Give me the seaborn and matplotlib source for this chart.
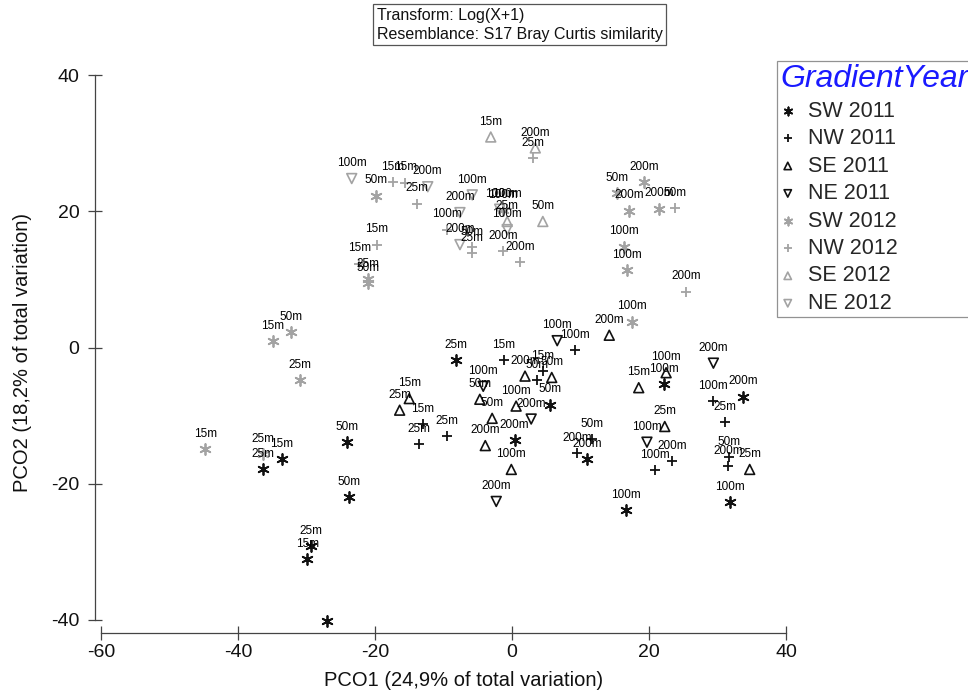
import matplotlib
matplotlib.use("Agg")
import matplotlib.pyplot as plt
import seaborn as sns
import pandas as pd

sns.set_theme(style="ticks")
plt.rcParams["font.family"] = ["Liberation Sans", "DejaVu Sans"]
plt.rcParams["axes.unicode_minus"] = False

# ---- PCO scores (PCO1, PCO2) and sampling depth for each gradient / year ----
sw11_x = [-27.0, -29.3, -29.9, -23.8, -24.1, -36.4, -33.6, -8.2, 5.5, 0.4, 11.0, 16.6, 22.2, 33.7, 31.8]
sw11_y = [-40.1, -29.2, -31.1, -22.0, -13.9, -17.9, -16.4, -1.9, -8.4, -13.6, -16.4, -23.9, -5.4, -7.2, -22.7]
sw11_d = ["15m", "25m", "15m", "50m", "50m", "25m", "15m", "25m", "50m", "200m", "200m", "100m", "100m", "200m", "100m"]

nw11_x = [-1.2, 9.2, 4.5, 3.6, -13.0, -13.6, -9.5, 29.3, 31.1, 23.4, 20.9, 11.7, 9.5, 31.7, 31.5]
nw11_y = [-1.9, -0.4, -3.5, -4.8, -11.3, -14.2, -13.0, -7.9, -11.0, -16.7, -18.0, -13.5, -15.5, -16.1, -17.4]
nw11_d = ["15m", "100m", "15m", "50m", "15m", "25m", "25m", "100m", "25m", "200m", "100m", "50m", "200m", "50m", "200m"]

se11_x = [1.9, 5.8, -4.7, -2.9, 0.6, -3.9, -0.1, -15.0, -16.4, 14.2, 18.5, 22.5, 22.3, 34.7]
se11_y = [-4.2, -4.4, -7.6, -10.4, -8.6, -14.4, -17.9, -7.5, -9.2, 1.8, -5.9, -3.7, -11.6, -17.9]
se11_d = ["200m", "50m", "50m", "50m", "100m", "200m", "100m", "15m", "25m", "200m", "15m", "100m", "25m", "25m"]

ne11_x = [6.6, -4.2, 2.8, -2.3, 29.4, 19.7]
ne11_y = [1.0, -5.7, -10.5, -22.6, -2.3, -13.9]
ne11_d = ["100m", "100m", "200m", "200m", "200m", "100m"]

sw12_x = [-19.9, -21.0, -21.0, -32.3, -34.9, -30.9, -44.8, -36.4, 19.3, 15.3, 17.1, 21.5, 16.4, 16.8, 17.5, -1.3]
sw12_y = [22.3, 10.0, 9.4, 2.3, 0.9, -4.8, -14.9, -15.7, 24.3, 22.7, 20.1, 20.4, 14.8, 11.4, 3.8, 20.2]
sw12_d = ["50m", "25m", "50m", "50m", "15m", "25m", "15m", "25m", "200m", "50m", "200m", "200m", "100m", "100m", "100m", "100m"]

nw12_x = [-17.4, -15.6, -13.9, -19.7, -9.5, -5.8, -5.8, -1.3, 1.2, 3.1, 23.8, 25.4, -22.3, -0.8]
nw12_y = [24.3, 24.2, 21.1, 15.1, 17.3, 14.7, 13.9, 14.1, 12.5, 27.8, 20.5, 8.2, 12.3, 20.3]
nw12_d = ["15m", "15m", "25m", "15m", "100m", "50m", "25m", "200m", "200m", "25m", "50m", "200m", "15m", "100m"]

se12_x = [-3.1, 3.4, -0.7, 4.5]
se12_y = [30.9, 29.3, 18.5, 18.5]
se12_d = ["15m", "200m", "25m", "50m"]

ne12_x = [-23.4, -12.3, -5.8, -7.6, -7.6, -0.7, -1.8]
ne12_y = [24.8, 23.6, 22.4, 19.8, 15.1, 17.3, 20.3]
ne12_d = ["100m", "200m", "100m", "200m", "200m", "100m", "100m"]

groups = ["SW 2011", "NW 2011", "SE 2011", "NE 2011",
          "SW 2012", "NW 2012", "SE 2012", "NE 2012"]
series = [(sw11_x, sw11_y, sw11_d), (nw11_x, nw11_y, nw11_d),
          (se11_x, se11_y, se11_d), (ne11_x, ne11_y, ne11_d),
          (sw12_x, sw12_y, sw12_d), (nw12_x, nw12_y, nw12_d),
          (se12_x, se12_y, se12_d), (ne12_x, ne12_y, ne12_d)]

frames = []
for g, (xs, ys, ds) in zip(groups, series):
    frames.append(pd.DataFrame({"GradientYear": g, "PCO1": xs, "PCO2": ys, "Depth": ds}))
df = pd.concat(frames, ignore_index=True)

BLACK = "#111111"
GREY = "#a3a3a3"
marker_of = {"SW": (6, 2, 0), "NW": "+", "SE": "^", "NE": "v"}

# ---- figure ----
W, H = 968, 693
fig = plt.figure(figsize=(W / 100, H / 100), dpi=100)
ax = fig.add_axes([101 / W, 1 - 620 / H, 685 / W, 545 / H])
ax.set_xlim(-60, 40)
ax.set_ylim(-40, 40)

for g in groups:
    sub = df[df["GradientYear"] == g]
    col = BLACK if g.endswith("2011") else GREY
    m = marker_of[g[:2]]
    if m in ("^", "v"):
        kw = dict(marker=m, color=col, facecolor="none", edgecolor=col, linewidth=1.2, s=50)
    else:
        kw = dict(marker=m, color=col, linewidth=1.3, s=62)
    sns.scatterplot(data=sub, x="PCO1", y="PCO2", ax=ax, label=g,
                    legend=False, clip_on=False, zorder=3, **kw)

for _, r in df.iterrows():
    ax.annotate(r["Depth"], (r["PCO1"], r["PCO2"]), xytext=(0, 11),
                textcoords="offset points", ha="center", va="center",
                fontsize=8.5, color="black", zorder=4)

# ---- axes styling ----
for side in ("top", "right"):
    ax.spines[side].set_visible(False)
ax.spines["left"].set_position(("outward", 4.5))
ax.spines["bottom"].set_position(("outward", 9.5))
ax.spines["left"].set_bounds(-40, 40)
ax.spines["bottom"].set_bounds(-60, 40)
for side in ("left", "bottom"):
    ax.spines[side].set_color("#444444")
    ax.spines[side].set_linewidth(0.9)
ax.set_xticks([-60, -40, -20, 0, 20, 40])
ax.set_yticks([-40, -20, 0, 20, 40])
ax.tick_params(axis="both", direction="inout", length=10, width=0.9,
               color="#444444", labelsize=14, labelcolor="#111111")
ax.tick_params(axis="y", pad=6)
ax.tick_params(axis="x", pad=3)

ax.set_xlabel("PCO1 (24,9% of total variation)", fontsize=14.5, color="#111111")
ax.set_ylabel("PCO2 (18,2% of total variation)", fontsize=14.5, color="#111111")
ax.xaxis.set_label_coords((464 - 101) / 685, (620 - 671) / 545)
ax.yaxis.set_label_coords((32 - 101) / 685, (620 - 352) / 545)

# ---- legend ----
handles, labels = ax.get_legend_handles_labels()
leg = ax.legend(handles, labels, title="GradientYear",
                bbox_to_anchor=(777 / W, 1 - 61 / H), bbox_transform=fig.transFigure,
                loc="upper left", frameon=True, fancybox=False, fontsize=15.5,
                title_fontsize=23, borderpad=0.15, borderaxespad=0,
                handlelength=0.7, handletextpad=0.6, labelspacing=0.3,
                markerscale=0.75, alignment="left")
leg.get_frame().set_edgecolor("#777777")
leg.get_frame().set_linewidth(0.9)
leg.get_title().set_color("#1a1aff")
leg.get_title().set_fontstyle("italic")

# ---- resemblance note ----
fig.text(377 / W, 1 - 8 / H,
         "Transform: Log(X+1)\nResemblance: S17 Bray Curtis similarity",
         ha="left", va="top", fontsize=11.5, color="#111111", linespacing=1.3,
         bbox=dict(boxstyle="square,pad=0.22", fc="white", ec="#555555", lw=0.9))

fig.savefig("out.png", dpi=100)
